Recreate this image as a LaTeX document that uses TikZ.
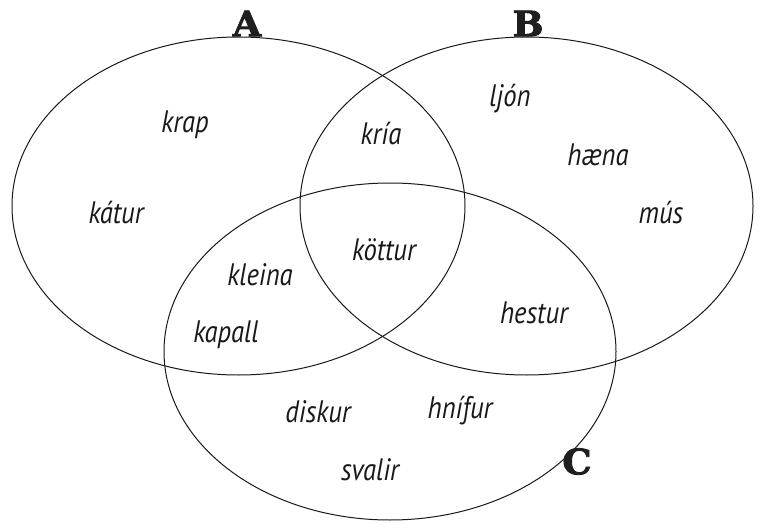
\documentclass[tikz,border=0pt]{standalone}
\usepackage{fontspec}
\newfontfamily\hw{PT Sans}[UprightFont={* Italic},FakeStretch=0.86]
\newfontfamily\lab{DejaVu Serif}[UprightFont={* Bold},FakeBold=2.5,FakeStretch=1.05]
\begin{document}
\begin{tikzpicture}[x=1pt,y=-1pt,
  set/.style={draw=black!90,line width=1pt},
  word/.style={anchor=base,inner sep=0pt,font={\hw\fontsize{31}{31}\selectfont},text=black!90},
  setlabel/.style={inner sep=0pt,font={\lab\fontsize{35}{35}\selectfont},text=black!88}]
\useasboundingbox[fill=white] (0,0) rectangle (763,524);
\draw[set] (238.5,206) ellipse [x radius=226.5,y radius=169];
\draw[set] (526.5,206) ellipse [x radius=226.5,y radius=169];
\draw[set] (390,351.5) ellipse [x radius=226,y radius=168.5];
\node[setlabel] (A) at (247,23.5) {A};
\node[setlabel] (B) at (528,23.5) {B};
\node[setlabel] (C) at (577,461.5) {C};
\node[word] (krap) at (185,132) {krap};
\node[word] (katur) at (116,223) {kátur};
\node[word] (kria) at (381,145) {kría};
\node[word] (ljon) at (510,107) {ljón};
\node[word] (haena) at (598,165) {hæna};
\node[word] (mus) at (661,223) {mús};
\node[word] (kottur) at (384,260) {köttur};
\node[word] (kleina) at (260,285) {kleina};
\node[word] (kapall) at (226,342) {kapall};
\node[word] (hestur) at (534,323) {hestur};
\node[word] (diskur) at (318,422) {diskur};
\node[word] (hnifur) at (460,418) {hnífur};
\node[word] (svalir) at (370,480) {svalir};
\end{tikzpicture}
\end{document}
